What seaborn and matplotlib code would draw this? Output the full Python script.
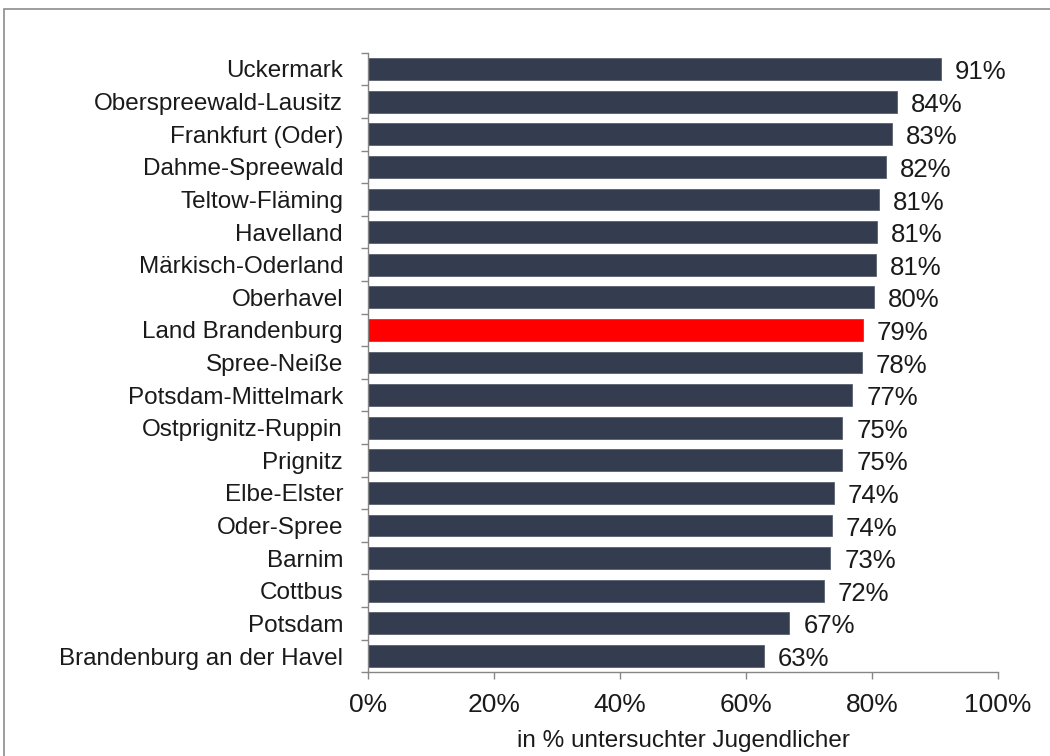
import matplotlib
matplotlib.use("Agg")
import matplotlib.pyplot as plt
from matplotlib.patches import Rectangle
from matplotlib.ticker import FixedLocator, PercentFormatter
import seaborn as sns
import pandas as pd

# Share of examined adolescents, by district (Land Brandenburg)
districts = [
    "Uckermark", "Oberspreewald-Lausitz", "Frankfurt (Oder)", "Dahme-Spreewald",
    "Teltow-Fläming", "Havelland", "Märkisch-Oderland", "Oberhavel",
    "Land Brandenburg", "Spree-Neiße", "Potsdam-Mittelmark", "Ostprignitz-Ruppin",
    "Prignitz", "Elbe-Elster", "Oder-Spree", "Barnim", "Cottbus", "Potsdam",
    "Brandenburg an der Havel",
]
shares = [
    91.0, 84.0, 83.1, 82.2, 81.1, 80.8, 80.6, 80.3, 78.6, 78.4,
    76.9, 75.3, 75.3, 74.0, 73.6, 73.4, 72.4, 66.9, 62.9,
]
highlight = "Land Brandenburg"
x_ticks = [0, 20, 40, 60, 80, 100]
x_title = "in % untersuchter Jugendlicher"

df = pd.DataFrame({"district": districts, "share": shares})

sns.set_theme(style="white")
plt.rcParams["font.family"] = ["Liberation Sans", "DejaVu Sans"]

bar_color = "#343d4f"
palette = {d: ("#ff0000" if d == highlight else bar_color) for d in districts}

fig = plt.figure(figsize=(10.5, 7.56), dpi=100)
ax = fig.add_axes([0.3505, 0.1107, 0.600, 0.8196])

sns.barplot(data=df, x="share", y="district", hue="district", palette=palette,
            orient="h", width=0.67, legend=False, saturation=1, ax=ax,
            edgecolor="#5a6070", linewidth=0.6)

for cont in ax.containers:
    texts = ax.bar_label(cont, labels=[f"{v:.0f}%" for v in cont.datavalues],
                         padding=10, fontsize=18.5, color="#1a1a1a")
    for t in texts:
        # sit the value labels slightly below the bar centre line
        t.xyann = (10, -2.2)

ax.set_xlim(0, 100)
ax.set_ylim(len(districts) - 0.5, -0.5)
ax.xaxis.set_major_locator(FixedLocator(x_ticks))
ax.xaxis.set_major_formatter(PercentFormatter(100, decimals=0))
ax.set_xlabel(x_title, fontsize=17.5, labelpad=9, color="#1a1a1a")
ax.set_ylabel("")

# category separators as small ticks on the value axis
ax.set_yticks([i + 0.5 for i in range(-1, len(districts))], minor=True)
ax.tick_params(axis="y", which="major", length=0, pad=18, labelsize=17.5,
               labelcolor="#1a1a1a")
ax.tick_params(axis="y", which="minor", left=True, length=5, width=1,
               color="#868686", direction="out")
ax.tick_params(axis="x", which="major", bottom=True, length=5, width=1,
               color="#868686", direction="out", pad=10, labelsize=19,
               labelcolor="#1a1a1a")

for side in ("top", "right"):
    ax.spines[side].set_visible(False)
for side in ("left", "bottom"):
    ax.spines[side].set_color("#868686")
    ax.spines[side].set_linewidth(1)
ax.grid(False)

# outer chart frame
fig.patches.append(Rectangle((4 / 1050, -0.05), 1.2, 1 - 9 / 756 + 0.05,
                             transform=fig.transFigure, fill=False,
                             edgecolor="#8c8c8c", linewidth=1.2))

fig.savefig("out.png", dpi=100)
